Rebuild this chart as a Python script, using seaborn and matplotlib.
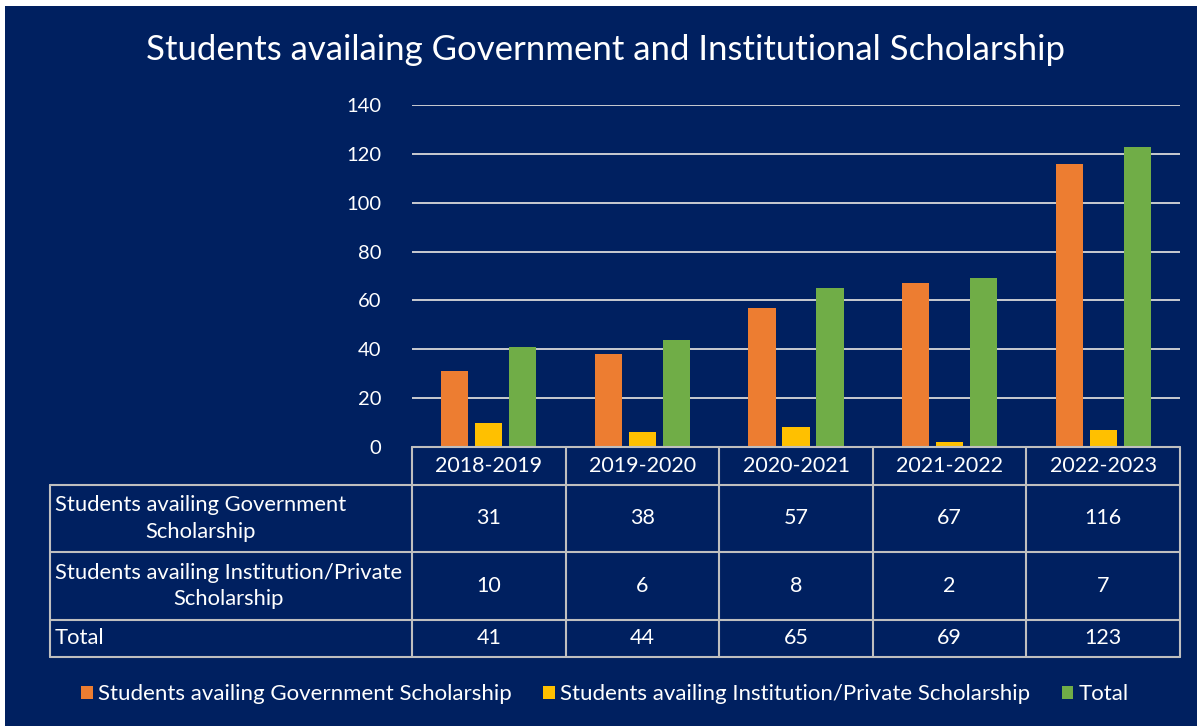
import matplotlib
matplotlib.use("Agg")
import matplotlib.pyplot as plt
import matplotlib.transforms as mtransforms
from matplotlib.patches import Rectangle, Patch
from matplotlib.lines import Line2D
import seaborn as sns
import pandas as pd

# ---------------- data ----------------
years = ["2018-2019", "2019-2020", "2020-2021", "2021-2022", "2022-2023"]
gov = [31, 38, 57, 67, 116]
inst = [10, 6, 8, 2, 7]
total = [41, 44, 65, 69, 123]
series_names = ["Students availing Government Scholarship",
                "Students availing Institution/Private Scholarship",
                "Total"]
table_row_labels = ["Students availing Government\nScholarship",
                    "Students availing Institution/Private\nScholarship",
                    "Total"]
yticks = [0, 20, 40, 60, 80, 100, 120, 140]
title = "Students availaing Government and Institutional Scholarship"

colors = ["#ED7D31", "#FFC000", "#70AD47"]
navy = "#002060"
grid_c = "#D9D9D9"
line_c = "#BFBFBF"
FONT = ["Lato", "DejaVu Sans"]

df = pd.DataFrame({
    "year": years * 3,
    "series": [series_names[0]] * 5 + [series_names[1]] * 5 + [series_names[2]] * 5,
    "value": gov + inst + total,
})

sns.set_theme(style="white")
plt.rcParams["font.family"] = FONT

W, H = 1203, 726
fig = plt.figure(figsize=(W / 100, H / 100), dpi=100, facecolor="white")

def fx(px):
    return px / W

def fy(py):
    return 1 - py / H

# navy background panel
fig.patches.append(Rectangle((fx(5), 0), fx(1197) - fx(5), fy(6), transform=fig.transFigure,
                             facecolor=navy, edgecolor="none", zorder=-10))

ax_left, ax_right, ax_top, ax_bot = 412, 1180, 105, 447
ax = fig.add_axes([fx(ax_left), fy(ax_bot), fx(ax_right) - fx(ax_left), fy(ax_top) - fy(ax_bot)])
ax.set_facecolor("none")

sns.barplot(data=df, x="year", y="value", hue="series", hue_order=series_names,
            palette=colors, width=0.663, gap=0.2, ax=ax, legend=False,
            saturation=1, errorbar=None, linewidth=0, edgecolor="none")

ax.set_ylim(0, 140)
ax.set_xlim(-0.5, len(years) - 0.5)
ax.set_yticks(yticks)
ax.set_yticklabels([str(t) for t in yticks], color="white", fontsize=14.5)
ax.tick_params(axis="y", length=0, pad=22)
ax.set_xticks([])
ax.set_xlabel("")
ax.set_ylabel("")
for s in ax.spines.values():
    s.set_visible(False)
ax.yaxis.grid(True, color=grid_c, linewidth=1.3)
ax.set_axisbelow(True)

# ---------------- data table ----------------
blend = mtransforms.blended_transform_factory(ax.transData, fig.transFigure)
row_y = [447, 485, 552, 620, 657]  # pixel boundaries (top of header to bottom)
table_left = 50
lw = 1.5
FS = 15.8

# horizontal lines
for i, y in enumerate(row_y):
    x0 = fx(ax_left) if i == 0 else fx(table_left)
    fig.add_artist(Line2D([x0, fx(ax_right)], [fy(y), fy(y)], transform=fig.transFigure,
                          color=line_c, linewidth=lw))
# vertical lines at category boundaries
for i in range(len(years) + 1):
    fig.add_artist(Line2D([i - 0.5, i - 0.5], [fy(row_y[0]), fy(row_y[-1])], transform=blend,
                          color=line_c, linewidth=lw))
# left border of row labels
fig.add_artist(Line2D([fx(table_left), fx(table_left)], [fy(row_y[1]), fy(row_y[-1])],
                      transform=fig.transFigure, color=line_c, linewidth=lw))

# header
for i, yr in enumerate(years):
    fig.text(i, fy((row_y[0] + row_y[1]) / 2), yr, transform=blend, ha="center", va="center",
             color="white", fontsize=15.5)

rows = [gov, inst, total]
for r, (lab, vals) in enumerate(zip(table_row_labels, rows)):
    yc = fy((row_y[r + 1] + row_y[r + 2]) / 2)
    fig.text(fx(table_left + 5), yc, lab, ha="left", va="center", multialignment="center",
             color="white", fontsize=FS, linespacing=1.4)
    for i, v in enumerate(vals):
        fig.text(i, yc, str(v), transform=blend, ha="center", va="center",
                 color="white", fontsize=15.5)

# ---------------- title ----------------
fig.text(fx(606), fy(50), title, ha="center", va="center", color="white", fontsize=25)

# ---------------- legend ----------------
handles = [Patch(facecolor=c, edgecolor="none") for c in colors]
leg = fig.legend(handles, series_names, loc="center", bbox_to_anchor=(fx(605), fy(694)),
                 ncol=3, frameon=False, fontsize=16, handlelength=0.52, handleheight=0.52,
                 handletextpad=0.25, columnspacing=1.4)
for t in leg.get_texts():
    t.set_color("white")

fig.savefig("out.png", dpi=100, facecolor=fig.get_facecolor())
